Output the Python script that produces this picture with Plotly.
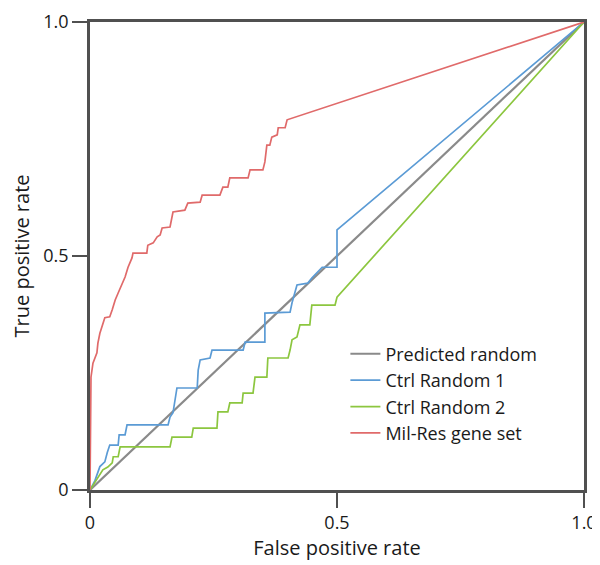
import plotly.graph_objects as go

# Predicted random (diagonal)
rand_x = [0, 1]
rand_y = [0, 1]

# Ctrl Random 1
ctrl1_x = [0, 0.01, 0.02, 0.03, 0.035, 0.040, 0.057, 0.059, 0.071, 0.075, 0.158, 0.162, 0.168, 0.172,
           0.176, 0.217, 0.219, 0.223, 0.243, 0.247, 0.310, 0.314, 0.354, 0.354, 0.405, 0.409, 0.419,
           0.441, 0.449, 0.470, 0.500, 0.500, 1.0]
ctrl1_y = [0, 0.02, 0.05, 0.06, 0.08, 0.096, 0.096, 0.118, 0.118, 0.139, 0.139, 0.156, 0.165, 0.197,
           0.218, 0.218, 0.256, 0.278, 0.282, 0.299, 0.299, 0.316, 0.316, 0.378, 0.380, 0.400, 0.438,
           0.442, 0.453, 0.476, 0.476, 0.556, 1.0]

# Ctrl Random 2
ctrl2_x = [0, 0.016, 0.026, 0.036, 0.045, 0.047, 0.057, 0.061, 0.162, 0.166, 0.206, 0.209, 0.257,
           0.259, 0.279, 0.283, 0.308, 0.310, 0.330, 0.334, 0.358, 0.360, 0.401, 0.405, 0.409, 0.419,
           0.421, 0.425, 0.445, 0.449, 0.496, 0.500, 1.0]
ctrl2_y = [0, 0.028, 0.043, 0.049, 0.058, 0.071, 0.071, 0.092, 0.092, 0.113, 0.113, 0.132, 0.132,
           0.167, 0.167, 0.186, 0.186, 0.207, 0.207, 0.241, 0.241, 0.282, 0.282, 0.299, 0.321, 0.327,
           0.338, 0.353, 0.353, 0.395, 0.395, 0.412, 1.0]

# Mil-Res gene set
milres_x = [0, 0.001, 0.002, 0.006, 0.014, 0.016, 0.020, 0.030, 0.040, 0.045, 0.051, 0.057, 0.065,
            0.071, 0.077, 0.085, 0.087, 0.115, 0.117, 0.128, 0.136, 0.142, 0.146, 0.162, 0.168, 0.192,
            0.198, 0.223, 0.227, 0.263, 0.269, 0.279, 0.283, 0.320, 0.324, 0.350, 0.354, 0.358, 0.364,
            0.368, 0.379, 0.381, 0.395, 0.399, 1.0]
milres_y = [0, 0.107, 0.241, 0.271, 0.293, 0.314, 0.335, 0.368, 0.370, 0.385, 0.406, 0.421, 0.442,
            0.455, 0.476, 0.496, 0.506, 0.506, 0.523, 0.528, 0.541, 0.545, 0.560, 0.562, 0.594, 0.598,
            0.613, 0.615, 0.630, 0.630, 0.647, 0.647, 0.667, 0.667, 0.684, 0.684, 0.701, 0.737, 0.737,
            0.754, 0.759, 0.774, 0.774, 0.791, 1.0]

tick_vals = [0, 0.5, 1.0]
tick_text = ["0", "0.5", "1.0"]

FONT = "Open Sans"
AXIS_COLOR = "#505050"
TEXT_COLOR = "#1a1a1a"

fig = go.Figure()
fig.add_trace(go.Scatter(x=rand_x, y=rand_y, mode="lines", name="Predicted random",
                         line=dict(color="#8a8a8a", width=2.2)))
fig.add_trace(go.Scatter(x=ctrl1_x, y=ctrl1_y, mode="lines", name="Ctrl Random 1",
                         line=dict(color="#5b9bd5", width=1.7)))
fig.add_trace(go.Scatter(x=ctrl2_x, y=ctrl2_y, mode="lines", name="Ctrl Random 2",
                         line=dict(color="#8cc63f", width=1.7)))
fig.add_trace(go.Scatter(x=milres_x, y=milres_y, mode="lines", name="Mil-Res gene set",
                         line=dict(color="#e06a6a", width=1.7)))

axis_common = dict(
    range=[0, 1], showgrid=False, zeroline=False, showline=True, linecolor=AXIS_COLOR,
    linewidth=2.5, mirror=True, ticks="outside", ticklen=15, tickwidth=1.5, tickcolor=AXIS_COLOR,
    tickvals=tick_vals, ticktext=tick_text, automargin=False,
    tickfont=dict(family=FONT, size=18, color=TEXT_COLOR),
)

# page body has an 8px margin: the figure is sized to fit the 600x565 window
fig.update_layout(
    width=592, height=557,
    margin=dict(l=82, r=16, t=14, b=75),
    paper_bgcolor="white", plot_bgcolor="white",
    font=dict(family=FONT, color=TEXT_COLOR),
    xaxis=dict(**axis_common, title=dict(text="False positive rate",
                                         font=dict(family=FONT, size=20, color=TEXT_COLOR),
                                         standoff=6)),
    yaxis=dict(**axis_common, title=dict(text="True positive rate",
                                         font=dict(family=FONT, size=20, color=TEXT_COLOR),
                                         standoff=12)),
    legend=dict(x=0.517, y=0.33, xanchor="left", yanchor="top", bgcolor="rgba(0,0,0,0)",
                font=dict(family=FONT, size=18, color=TEXT_COLOR), tracegroupgap=0,
                itemwidth=30),
    showlegend=True,
)

fig.write_html("out.html")
